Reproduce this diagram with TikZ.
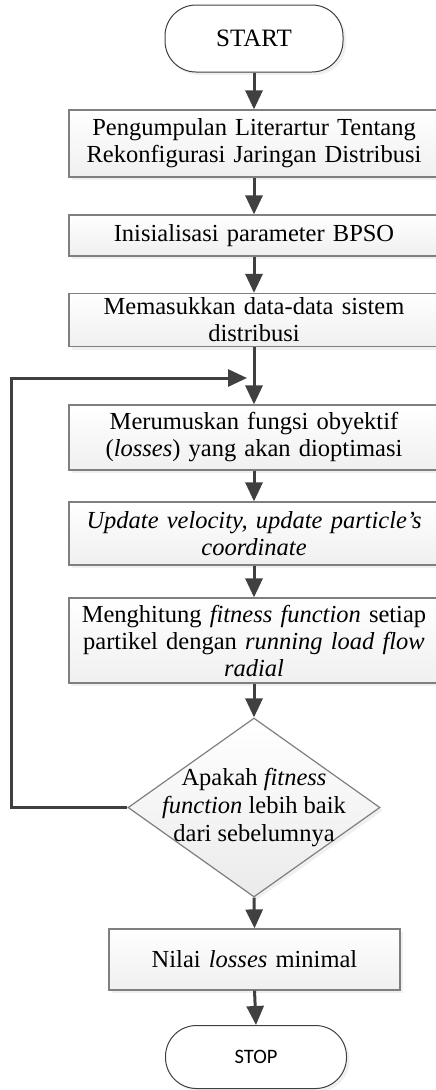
\documentclass[tikz,border=0pt]{standalone}
\usepackage{fontspec}
\setmainfont{Liberation Serif}
\newfontfamily\stopfont{Carlito}
\usetikzlibrary{arrows.meta,shapes.geometric,shadows}
\definecolor{arr}{HTML}{404040}
\definecolor{bord}{HTML}{7F7F7F}
\tikzset{
  shade/.style={drop shadow={opacity=0.12,shadow xshift=3pt,shadow yshift=-3pt}},
  procbox/.style={draw=bord, line width=1.2pt, top color=white, bottom color=black!6, shade,
    minimum width=370pt, inner sep=0pt, text width=362pt, align=center,
    font=\fontsize{24.5}{27}\selectfont},
  term/.style={draw=arr, line width=1pt, rounded corners=31pt, fill=white, shade,
    minimum width=178pt, minimum height=67pt, inner sep=0pt},
  dec/.style={diamond, draw=bord, line width=1.2pt, top color=white, bottom color=black!8, shade,
    minimum width=252pt, minimum height=179pt, inner sep=0pt,
    font=\fontsize{24.5}{28}\selectfont},
  flow/.style={draw=arr, line width=3pt, -{Triangle[width=17pt,length=19pt]}}
}
\begin{document}
\begin{tikzpicture}[x=1pt,y=-1pt]
\useasboundingbox (0,0) rectangle (436,1090);
\clip (0,0) rectangle (436,1090);
\node[term, font=\fontsize{25}{27}\selectfont] (start) at (254,38.5) {START};
\node[procbox, minimum height=67pt] (b1) at (254,143.5) {Pengumpulan Literartur Tentang\\Rekonfigurasi Jaringan Distribusi};
\node[procbox, minimum height=41pt] (b2) at (254,235.5) {Inisialisasi parameter BPSO};
\node[procbox, minimum height=53pt] (b3) at (254,320) {Memasukkan data-data sistem\\distribusi};
\node[procbox, minimum height=65pt] (b4) at (254,437.5) {Merumuskan fungsi obyektif\\(\textit{losses}) yang akan dioptimasi};
\node[procbox, minimum height=63pt] (b5) at (254,533.5) {\textit{Update velocity, update particle's}\\\textit{coordinate}};
\node[procbox, minimum height=85pt] (b6) at (254,640.5) {Menghitung \textit{fitness function} setiap\\partikel dengan \textit{running load flow}\\\textit{radial}};
\node[dec] (d) at (254,807.5) {\smash{\makebox[0pt]{\raisebox{-7pt}{\begin{tabular}{@{}c@{}}Apakah \textit{fitness}\\\textit{function} lebih baik\\dari sebelumnya\end{tabular}}}}};
\node[procbox, minimum width=291pt, text width=285pt, minimum height=61pt] (b7) at (254.5,959.5) {Nilai \textit{losses} minimal};
\node[term, minimum width=181pt, minimum height=63pt, font=\stopfont\fontsize{20.5}{24}\selectfont] (stop) at (256,1057) {STOP};
\coordinate (lc) at (11,807.5);
\coordinate (lt) at (11,378);
\coordinate (le) at (247,378);
\draw[flow] (start.south) -- (b1.north);
\draw[flow] (b1.south) -- (b2.north);
\draw[flow] (b2.south) -- (b3.north);
\draw[flow] (b3.south) -- (b4.north);
\draw[flow] (b4.south) -- (b5.north);
\draw[flow] (b5.south) -- (b6.north);
\draw[flow] (b6.south) -- (d.north);
\draw[flow] (d.south) -- (b7.north);
\draw[flow] (b7.south) -- (stop.north);
\draw[flow] (d.west) -- (lc) -- (lt) -- (le);
\end{tikzpicture}
\end{document}
